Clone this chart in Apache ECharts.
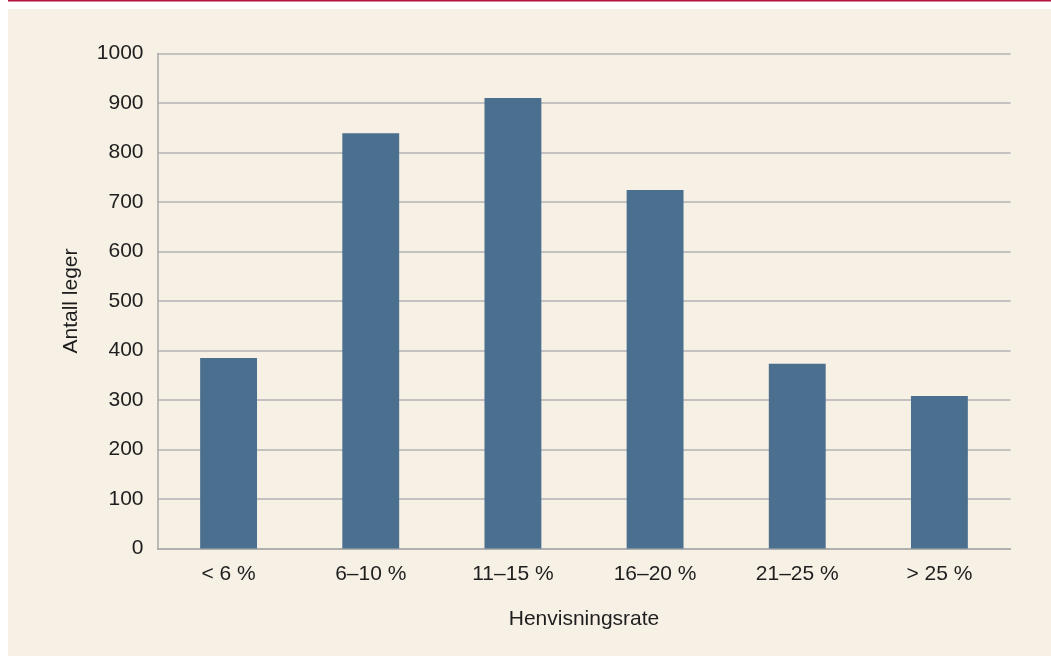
<!DOCTYPE html>
<html>
<head>
<meta charset="utf-8">
<script src="https://cdn.jsdelivr.net/npm/echarts@6/dist/echarts.min.js"></script>
<style>
  html, body { margin: 0; padding: 0; background: #ffffff; }
  #chart { width: 1051px; height: 656px; }
</style>
</head>
<body>
<div id="chart"></div>
<script>
// Referral-rate groups and number of doctors in each group
const categories = ['< 6 %', '6–10 %', '11–15 %', '16–20 %', '21–25 %', '> 25 %'];
const doctors = [385, 839, 910, 724, 373, 308];
const yTicks = [0, 1000, 100]; // min, max, step

const chart = echarts.init(document.getElementById('chart'), null, { renderer: 'canvas' });

chart.setOption({
  animation: false,
  backgroundColor: '#ffffff',
  textStyle: { fontFamily: '"Liberation Sans", Arial, sans-serif' },
  graphic: [
    { type: 'rect', z: -10, shape: { x: 8, y: 9, width: 1043, height: 647 }, style: { fill: '#f6f0e5' } },
    { type: 'rect', z: -10, shape: { x: 8, y: 0, width: 1043, height: 1.5 }, style: { fill: '#b3123f' } }
  ],
  grid: { left: 157.5, right: 40.5, top: 53.5, bottom: 107.5, containLabel: false },
  xAxis: {
    type: 'category',
    data: categories,
    name: 'Henvisningsrate',
    nameLocation: 'middle',
    nameGap: 60,
    nameTextStyle: { fontSize: 21, color: '#1e1e1e' },
    axisLine: { lineStyle: { color: '#a9a9a9', width: 1.5 } },
    axisTick: { show: false },
    axisLabel: { fontSize: 21, color: '#1e1e1e', margin: 15 }
  },
  yAxis: {
    type: 'value',
    min: yTicks[0],
    max: yTicks[1],
    interval: yTicks[2],
    name: 'Antall leger',
    nameLocation: 'middle',
    nameGap: 76,
    nameTextStyle: { fontSize: 21, color: '#1e1e1e' },
    axisLine: { show: true, lineStyle: { color: '#a9a9a9', width: 1.5 } },
    axisTick: { show: false },
    axisLabel: { fontSize: 21, color: '#1e1e1e', margin: 14, formatter: v => String(v) },
    splitLine: { lineStyle: { color: '#b3b3b3', width: 1.5 } }
  },
  series: [{
    type: 'bar',
    data: doctors,
    barWidth: '40%',
    itemStyle: { color: '#4b6f8f' }
  }]
});
</script>
</body>
</html>
